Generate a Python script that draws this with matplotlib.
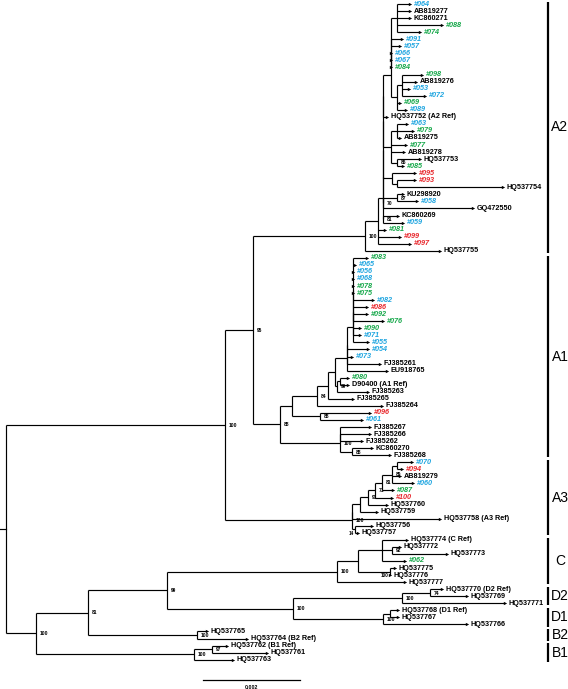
import matplotlib
matplotlib.use("Agg")
import matplotlib.pyplot as plt

# ---------------- data ----------------
# internal nodes: id, parent, depth (1e-4 substitutions/site from root), bootstrap
node_ids = ["root", "A", "A12", "A2root", "Na", "Nb", "Nc", "Nd", "Ne", "Nf",
            "Nup", "Nup2", "Nup3", "Ntop", "N098", "N98b",
            "Nmid", "N63", "N85", "N95", "N93", "N70", "N87", "N81",
            "A1node", "A1a", "N84", "N84b", "Nx", "A1mid", "A1m2", "A1core", "A1c3", "A1c2",
            "N99a", "N080", "N88b", "A1b", "A1b2", "N88c",
            "A3root", "A3r2", "A3a", "N91", "N71", "N81c", "N89", "N7094", "N14",
            "BCD", "N81d", "N99d", "C", "Cx", "Cy", "N92", "N75",
            "D", "D2", "N74", "D1", "Nd1", "B2", "B1", "N97"]
node_parents = [None, "root", "A", "A12", "A2root", "Na", "Nb", "Nc", "Nd", "Ne",
                "Nf", "Nup", "Nup2", "Nup3", "Nup", "N098",
                "Ne", "Nmid", "Nmid", "Nd", "N95", "Nc", "N70", "Nb",
                "A12", "A1node", "A1a", "N84", "N84b", "Nx", "A1mid", "A1m2", "A1core", "A1c3",
                "Nx", "N99a", "A1a", "A1node", "A1b", "A1b",
                "A", "A3root", "A3r2", "A3a", "N91", "N71", "N81c", "N89", "A3root",
                "root", "BCD", "N81d", "N99d", "C", "Cx", "Cy", "Cx",
                "N99d", "D", "D2", "D", "D1", "N81d", "BCD", "B1"]
node_depths = [0.0, 45.2, 50.9, 74.0, 76.7, 77.7, 77.7, 77.7, 77.7, 77.7,
               79.4, 79.4, 79.4, 80.6, 80.6, 81.6,
               79.4, 80.6, 80.6, 79.6, 80.6, 77.7, 80.6, 77.7,
               56.5, 59.0, 64.1, 66.4, 67.8, 70.3, 70.3, 71.5, 71.5, 71.5,
               68.2, 68.9, 64.7, 68.9, 68.9, 71.3,
               71.3, 71.3, 73.0, 74.6, 76.1, 77.5, 79.6, 80.6, 72.0,
               6.2, 16.9, 33.2, 68.2, 72.6, 77.5, 79.6, 79.2,
               59.2, 81.6, 87.4, 77.7, 79.2, 39.4, 38.8, 42.5]
node_support = ["", "100", "95", "100", "", "", "", "", "", "",
                "", "", "", "", "", "",
                "", "", "86", "", "", "70", "87", "81",
                "88", "", "84", "", "", "", "", "", "", "",
                "99", "", "88", "100", "", "88",
                "100", "", "", "91", "71", "81", "89", "", "14",
                "100", "81", "99", "100", "", "", "92", "100",
                "100", "100", "74", "100", "", "100", "100", "97"]

# leaves, top to bottom
leaf_labels = ["#064", "AB819277", "KC860271", "#088", "#074", "#091", "#057", "#066", "#067", "#084",
               "#098", "AB819276", "#053", "#072", "#069", "#089", "HQ537752 (A2 Ref)", "#063", "#079",
               "AB819275", "#077", "AB819278", "HQ537753", "#085", "#095", "#093", "HQ537754",
               "KU298920", "#058", "GQ472550", "KC860269", "#059", "#081", "#099", "#097", "HQ537755",
               "#083", "#065", "#056", "#068", "#078", "#075", "#082", "#086", "#092", "#076",
               "#090", "#071", "#055", "#054", "#073", "FJ385261", "EU918765", "#080",
               "D90400 (A1 Ref)", "FJ385263", "FJ385265", "FJ385264", "#096", "#061",
               "FJ385267", "FJ385266", "FJ385262", "KC860270", "FJ385268",
               "#070", "#094", "AB819279", "#060", "#087", "#100", "HQ537760", "HQ537759",
               "HQ537758 (A3 Ref)", "HQ537756", "HQ537757",
               "HQ537774 (C Ref)", "HQ537772", "HQ537773", "#062", "HQ537775", "HQ537776", "HQ537777",
               "HQ537770 (D2 Ref)", "HQ537769", "HQ537771",
               "HQ537768 (D1 Ref)", "HQ537767", "HQ537766",
               "HQ537765", "HQ537764 (B2 Ref)", "HQ537762 (B1 Ref)", "HQ537761", "HQ537763"]
leaf_parents = ["Ntop", "Ntop", "Ntop", "Ntop", "Ntop", "Nup3", "Nup3", "Nup3", "Nup3", "Nup2",
                "N98b", "N98b", "N98b", "N98b", "N098", "N098", "Nf", "N63", "N63",
                "N63", "Nmid", "Nmid", "N85", "N85", "N95", "N93", "N93",
                "N87", "N87", "N70", "N81", "N81", "Na", "Na", "Na", "A2root",
                "A1c2", "A1c2", "A1c2", "A1c2", "A1c2", "A1c2", "A1c2", "A1c2", "A1c2", "A1c2",
                "A1c3", "A1c3", "A1core", "A1m2", "A1m2", "A1m2", "A1mid", "N080",
                "N080", "N99a", "N84b", "N84", "N88b", "N88b",
                "A1b2", "A1b2", "A1b2", "N88c", "N88c",
                "N7094", "N7094", "N89", "N89", "N81c", "N71", "N91", "A3a",
                "A3r2", "N14", "N14",
                "Cy", "N92", "N92", "Cy", "N75", "N75", "C",
                "N74", "N74", "D2",
                "Nd1", "Nd1", "D1",
                "B2", "B2", "N97", "N97", "B1"]
leaf_depths = [83.3, 83.3, 83.3, 89.9, 85.4, 81.6, 81.2, 79.4, 79.4, 79.4,
               85.8, 84.5, 83.1, 86.4, 81.2, 82.5, 78.6, 82.7, 83.9,
               81.2, 82.5, 82.1, 85.4, 81.9, 84.3, 84.3, 102.5,
               81.9, 84.7, 96.3, 80.8, 81.9, 78.1, 81.2, 83.3, 89.5,
               74.4, 72.0, 71.5, 71.5, 71.5, 71.5, 75.7, 74.4, 74.4, 77.7,
               73.0, 73.0, 74.6, 74.6, 71.3, 77.1, 78.6, 70.5,
               70.5, 74.6, 71.5, 77.5, 75.1, 73.4,
               75.1, 75.1, 73.4, 75.5, 79.2,
               83.7, 81.6, 81.2, 83.9, 79.8, 79.6, 78.6, 76.5,
               89.5, 75.5, 72.6,
               82.7, 81.2, 90.9, 82.3, 80.2, 79.2, 82.3,
               89.9, 95.1, 102.9,
               80.8, 80.8, 95.1,
               41.4, 49.7, 45.6, 53.8, 46.8]
# k = reference sequence, b / g / r = sample groups
leaf_groups = ["b", "k", "k", "g", "g", "b", "b", "b", "b", "g",
               "g", "k", "b", "b", "g", "b", "k", "b", "g",
               "k", "g", "k", "k", "g", "r", "r", "k",
               "k", "b", "k", "k", "b", "g", "r", "r", "k",
               "g", "b", "b", "b", "g", "g", "b", "r", "g", "g",
               "g", "b", "b", "b", "b", "k", "k", "g",
               "k", "k", "k", "k", "r", "b",
               "k", "k", "k", "k", "k",
               "b", "r", "k", "b", "g", "r", "k", "k",
               "k", "k", "k",
               "k", "k", "k", "g", "k", "k", "k",
               "k", "k", "k",
               "k", "k", "k",
               "k", "k", "k", "k", "k"]

clade_names = ["A2", "A1", "A3", "C", "D2", "D1", "B2", "B1"]
clade_first = [0, 36, 65, 76, 83, 86, 89, 91]
clade_last = [35, 64, 75, 82, 85, 88, 90, 93]

scale_len = 20.0          # in 1e-4 substitutions/site
scale_text = "0.002"

group_colors = {"k": "#000000", "b": "#1ea5e0", "g": "#16a84a", "r": "#e8262b"}

# ---------------- layout ----------------
W, H = 568, 689
fig = plt.figure(figsize=(W / 100, H / 100), dpi=100)
ax = fig.add_axes([0, 0, 1, 1])
px_per_unit = 4.85
x0_px = 6.0
y0_px, dy_px = 4.0, 7.05
ax.set_xlim(-x0_px / px_per_unit, (W - x0_px) / px_per_unit)
ax.set_ylim((H - y0_px) / dy_px, -y0_px / dy_px)
ax.axis("off")

depth = dict(zip(node_ids, node_depths))
support = dict(zip(node_ids, node_support))
children = {n: [] for n in node_ids}
for i, p in enumerate(leaf_parents):
    children[p].append(("leaf", i))
for n, p in zip(node_ids, node_parents):
    if p is not None:
        children[p].append(("node", n))

ycache = {}


def ypos(item):
    kind, key = item
    if kind == "leaf":
        return float(key)
    if key in ycache:
        return ycache[key]
    ys = [ypos(c) for c in children[key]]
    y = (min(ys) + max(ys)) / 2.0
    ycache[key] = y
    return y


# support values that sit under the branch, left of the node (crowded spots)
left_placed = {"N75", "N14"}

LW = 0.85
for n in node_ids:
    ny = ypos(("node", n))
    ys = [ypos(c) for c in children[n]]
    ax.plot([depth[n], depth[n]], [min(ys), max(ys)], color="black", lw=LW,
            solid_capstyle="butt")
    for c in children[n]:
        cy = ypos(c)
        cx = leaf_depths[c[1]] if c[0] == "leaf" else depth[c[1]]
        ax.plot([depth[n], cx], [cy, cy], color="black", lw=LW, solid_capstyle="butt")
    if support[n]:
        if n in left_placed:
            ax.text(depth[n] - 0.3, ny + 0.2, support[n], fontsize=3.3, fontweight="bold",
                    ha="right", va="top", family="Liberation Sans")
        else:
            ax.text(depth[n] + 0.8, ny + 0.05, support[n], fontsize=3.6, fontweight="bold",
                    ha="left", va="center", family="Liberation Sans")

# root stem
ry = ypos(("node", "root"))
ax.plot([-1.3, 0], [ry, ry], color="black", lw=LW)

for i, lab in enumerate(leaf_labels):
    x = leaf_depths[i]
    ax.plot([x], [i], marker=">", ms=2.4, color="black", mew=0)
    g = leaf_groups[i]
    ax.text(x + 0.75, i, lab, fontsize=5.2, color=group_colors[g], fontweight="bold",
            fontstyle="italic" if g != "k" else "normal",
            ha="left", va="center", family="Liberation Sans")

bar_x = (548 - x0_px) / px_per_unit
lab_x = (560 - x0_px) / px_per_unit
for name, a, b in zip(clade_names, clade_first, clade_last):
    ax.plot([bar_x, bar_x], [a - 0.3, b + 0.3], color="black", lw=1.6, solid_capstyle="butt")
    ax.text(lab_x, (a + b) / 2.0, name, fontsize=10, ha="center", va="center",
            family="Liberation Sans")

# scale bar
sb_x = (203 - x0_px) / px_per_unit
sb_y = (680 - y0_px) / dy_px
ax.plot([sb_x, sb_x + scale_len], [sb_y, sb_y], color="black", lw=0.9)
ax.text(sb_x + scale_len / 2, sb_y + 1.0, scale_text, fontsize=3.8, ha="center", va="center",
        fontweight="bold", family="Liberation Sans")

fig.savefig("out.png", dpi=100)
